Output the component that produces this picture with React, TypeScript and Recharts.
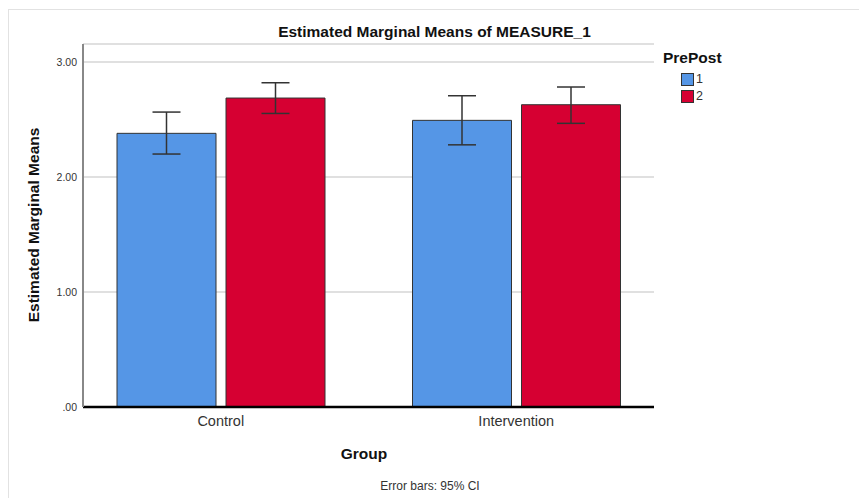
import { BarChart, Bar, XAxis, YAxis, CartesianGrid, ErrorBar, Legend } from "recharts";

// values
const groups = ["Control", "Intervention"];
const preMeans = [2.38, 2.493];
const preLower = [2.2, 2.28];
const preUpper = [2.565, 2.707];
const postMeans = [2.687, 2.629];
const postLower = [2.553, 2.467];
const postUpper = [2.82, 2.783];
const yTicks = [0, 1, 2, 3];

const series = [
  { key: "pre", label: "1", color: "#5596E6" },
  { key: "post", label: "2", color: "#D60032" },
];

const data = groups.map((g, i) => ({
  group: g,
  pre: preMeans[i],
  preErr: [preMeans[i] - preLower[i], preUpper[i] - preMeans[i]],
  post: postMeans[i],
  postErr: [postMeans[i] - postLower[i], postUpper[i] - postMeans[i]],
}));

const FONT = "'Liberation Sans', Arial, sans-serif";

function fmtTick(v: number) {
  return v === 0 ? ".00" : v.toFixed(2);
}

function LegendBox() {
  return (
    <div style={{ fontFamily: FONT, position: "relative", width: 90, height: 70 }}>
      <div style={{ position: "absolute", left: 0, top: 0, fontWeight: "bold", fontSize: 15.5, color: "#111" }}>
        PrePost
      </div>
      {series.map((s, i) => (
        <div key={s.key} style={{ position: "absolute", left: 18, top: 23 + i * 17, display: "flex", alignItems: "center" }}>
          <span style={{ width: 11, height: 11, background: s.color, border: "1px solid #333", display: "inline-block" }} />
          <span style={{ fontSize: 12.5, color: "#333", marginLeft: 2 }}>{s.label}</span>
        </div>
      ))}
    </div>
  );
}

export default function App() {
  return (
    <div style={{ position: "absolute", left: 0, top: 0, width: 859, height: 498, background: "#fff", fontFamily: FONT }}>
      <div style={{ position: "absolute", left: 8, top: 9, width: 851, height: 489, borderTop: "1px solid #e2e2e2", borderLeft: "1px solid #e2e2e2" }} />
      <BarChart
        width={859}
        height={498}
        data={data}
        margin={{ top: 44, right: 205, left: 23, bottom: 61 }}
        barSize={99}
        barGap={10}
      >
        <CartesianGrid vertical={false} stroke="#d6d6d6" strokeWidth={1.5} />
        <XAxis
          dataKey="group"
          height={30}
          padding={{ left: -10, right: -10 }}
          axisLine={{ stroke: "#000", strokeWidth: 2.5 }}
          tickLine={false}
          tickSize={0}
          tickMargin={9}
          tick={{ fontSize: 14.5, fill: "#333", fontFamily: FONT }}
        />
        <YAxis
          width={60}
          domain={[0, 3.157]}
          ticks={yTicks}
          allowDataOverflow
          tickFormatter={fmtTick}
          axisLine={{ stroke: "#888", strokeWidth: 2 }}
          tickLine={false}
          tickSize={0}
          tickMargin={6}
          tick={{ fontSize: 10.5, fill: "#333", fontFamily: FONT }}
        />
        <Legend
          layout="horizontal"
          verticalAlign="middle"
          content={() => <LegendBox />}
          wrapperStyle={{ position: "absolute", left: 663, top: 49, width: 90 }}
        />
        <Bar dataKey="pre" fill={series[0].color} stroke="#333" strokeWidth={1} isAnimationActive={false}>
          <ErrorBar dataKey="preErr" width={14} stroke="#333" strokeWidth={1.5} direction="y" isAnimationActive={false} />
        </Bar>
        <Bar dataKey="post" fill={series[1].color} stroke="#333" strokeWidth={1} isAnimationActive={false}>
          <ErrorBar dataKey="postErr" width={14} stroke="#333" strokeWidth={1.5} direction="y" isAnimationActive={false} />
        </Bar>
      </BarChart>
      <svg width={859} height={498} style={{ position: "absolute", left: 0, top: 0, pointerEvents: "none" }}>
        <text x={434.5} y={36.5} textAnchor="middle" fontSize={15.5} fontWeight="bold" fill="#111" fontFamily={FONT}>
          Estimated Marginal Means of MEASURE_1
        </text>
        <text
          x={38.5}
          y={225}
          textAnchor="middle"
          fontSize={15.5}
          fontWeight="bold"
          fill="#111"
          fontFamily={FONT}
          transform="rotate(-90, 38.5, 225)"
        >
          Estimated Marginal Means
        </text>
        <text x={364} y={459} textAnchor="middle" fontSize={15.5} fontWeight="bold" fill="#111" fontFamily={FONT}>
          Group
        </text>
        <text x={430} y={490} textAnchor="middle" fontSize={12} fill="#333" fontFamily={FONT}>
          Error bars: 95% CI
        </text>
      </svg>
    </div>
  );
}
